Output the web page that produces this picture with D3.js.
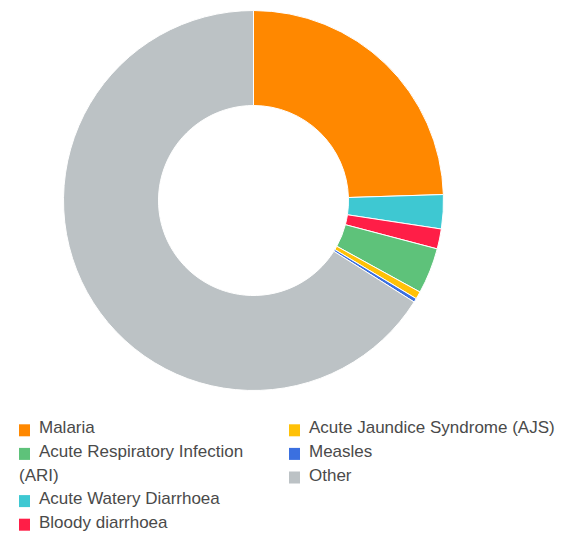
<!DOCTYPE html>
<html>
<head>
<meta charset="utf-8">
<script src="https://cdn.jsdelivr.net/npm/d3@7/dist/d3.min.js"></script>
<style>
  html, body { margin: 0; padding: 0; background: #fff; }
  svg { display: block; }
</style>
</head>
<body>
<svg id="chart" width="563" height="540"></svg>
<script>
// Share of reported cases by disease (percent)
const categories = [
  "Malaria",
  "Acute Watery Diarrhoea",
  "Bloody diarrhoea",
  "Acute Respiratory Infection (ARI)",
  "Acute Jaundice Syndrome (AJS)",
  "Measles",
  "Other"
];
const values = [24.5, 2.9, 1.7, 3.9, 0.64, 0.33, 66.03];
const colors = ["#ff8800", "#3ec8d2", "#ff1e47", "#5ec27a", "#ffc107", "#3b70e0", "#bcc2c5"];

// Legend layout: two columns, in this order
const legendColumns = [
  ["Malaria", "Acute Respiratory Infection (ARI)", "Acute Watery Diarrhoea", "Bloody diarrhoea"],
  ["Acute Jaundice Syndrome (AJS)", "Measles", "Other"]
];

const svg = d3.select("#chart");
const cx = 253.5, cy = 200.5, rOuter = 190, rInner = 95;

const color = d3.scaleOrdinal().domain(categories).range(colors);
const data = categories.map((c, i) => ({ name: c, value: values[i] }));

const pie = d3.pie().sort(null).value(d => d.value);
const arc = d3.arc().innerRadius(rInner).outerRadius(rOuter);

svg.append("g")
  .attr("transform", `translate(${cx},${cy})`)
  .selectAll("path")
  .data(pie(data))
  .join("path")
  .attr("d", arc)
  .attr("fill", d => color(d.data.name))
  .attr("stroke", "#fff")
  .attr("stroke-width", 1);

// Legend
const fontSize = 17, lineH = 23.6;
const colX = [19, 289], colWrap = [232, 270], firstBaseline = 433.3;
const textOffset = 20;

const legend = svg.append("g")
  .attr("font-family", "'Liberation Sans', Arial, Helvetica, sans-serif")
  .attr("font-size", fontSize)
  .attr("fill", "#4a4a4a");

legendColumns.forEach((items, ci) => {
  let line = 0;
  items.forEach(name => {
    const x0 = colX[ci];
    const baseY = firstBaseline + line * lineH;
    legend.append("rect")
      .attr("x", x0).attr("y", baseY - 9)
      .attr("width", 11).attr("height", 12)
      .attr("fill", color(name));

    // wrap words so the item stays inside its column
    const words = name.split(" ");
    let lines = [], cur = "";
    let avail = colWrap[ci] - textOffset;
    const probe = legend.append("text").attr("visibility", "hidden");
    words.forEach(w => {
      const test = cur ? cur + " " + w : w;
      probe.text(test);
      if (cur && probe.node().getComputedTextLength() > avail) {
        lines.push(cur);
        cur = w;
        avail = colWrap[ci];
      } else {
        cur = test;
      }
    });
    lines.push(cur);
    probe.remove();

    lines.forEach((t, li) => {
      legend.append("text")
        .attr("x", li === 0 ? x0 + textOffset : x0)
        .attr("y", baseY + li * lineH)
        .text(t);
    });
    line += lines.length;
  });
});
</script>
</body>
</html>
